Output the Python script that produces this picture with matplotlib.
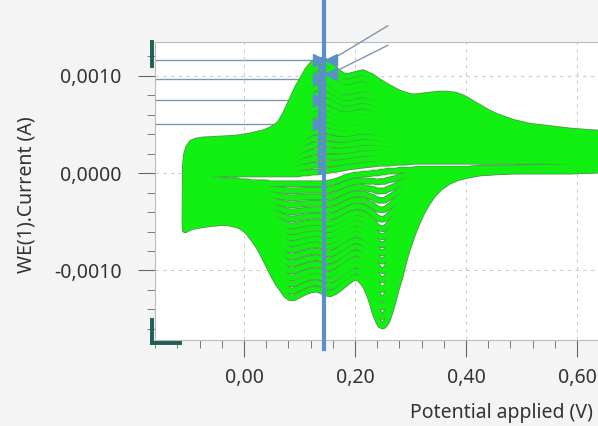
import numpy as np
import matplotlib.pyplot as plt
from matplotlib.ticker import MultipleLocator, FuncFormatter

plt.rcParams['font.family'] = ['Noto Sans', 'DejaVu Sans']

# forward (anodic) sweep: first and last cycle
fwd_potential = [-0.106, -0.105, -0.104, -0.1, -0.094, -0.085, -0.074, -0.04, -0.013, 0.01,
                 0.025, 0.034, 0.047, 0.057, 0.065, 0.075, 0.088, 0.097, 0.106, 0.115,
                 0.124, 0.133, 0.143, 0.155, 0.168, 0.178, 0.186, 0.2, 0.214, 0.23,
                 0.245, 0.26, 0.276, 0.29, 0.305, 0.32, 0.335, 0.35, 0.366, 0.38,
                 0.395, 0.41, 0.425, 0.44, 0.455, 0.47, 0.485, 0.515, 0.546, 0.59, 0.638]
fwd_last = [-0.00058, 0.0, 0.00018, 0.00026, 0.00031, 0.00033, 0.00034, 0.00035, 0.00036, 0.00038,
            0.00040, 0.00041, 0.00044, 0.00047, 0.00051, 0.00061, 0.00077, 0.00088, 0.00097, 0.00106,
            0.00112, 0.00115, 0.00116, 0.00111, 0.00104, 0.00100, 0.00099, 0.00101, 0.00103, 0.00099,
            0.00093, 0.00088, 0.00083, 0.00080, 0.00078, 0.00079, 0.00080, 0.00081, 0.00081, 0.00080,
            0.00077, 0.00072, 0.00067, 0.00062, 0.00058, 0.00055, 0.00052, 0.00048, 0.00046, 0.00043, 0.00041]
fwd_first = [-0.00006, -0.00005, -0.00005, -0.00004, -0.00003, -0.00003, -0.00002, -0.00001, -0.00001, -0.00001,
             -0.00001, -0.00001, -0.00001, -0.00001, -0.00001, -0.00001, -0.00001, -0.00001, 0.0, 0.0,
             0.00001, 0.00001, 0.00002, 0.00003, 0.00004, 0.00005, 0.00006, 0.00007, 0.00008, 0.00009,
             0.00010, 0.00010, 0.00011, 0.00011, 0.00012, 0.00012, 0.00012, 0.00012, 0.00012, 0.00012,
             0.00012, 0.00012, 0.00012, 0.00012, 0.00012, 0.00012, 0.00012, 0.00012, 0.00012, 0.00011, 0.00009]

# reverse (cathodic) sweep: first and last cycle
rev_potential = [0.638, 0.59, 0.546, 0.485, 0.45, 0.425, 0.405, 0.384, 0.368, 0.353,
                 0.341, 0.33, 0.321, 0.312, 0.303, 0.294, 0.287, 0.281, 0.274, 0.268,
                 0.263, 0.258, 0.254, 0.25, 0.246, 0.242, 0.237, 0.232, 0.226, 0.22,
                 0.214, 0.207, 0.2, 0.193, 0.186, 0.173, 0.163, 0.155, 0.147, 0.14,
                 0.13, 0.12, 0.11, 0.1, 0.09, 0.083, 0.076, 0.07, 0.062, 0.055,
                 0.047, 0.04, 0.032, 0.025, 0.015, 0.005, -0.005, -0.013, -0.03, -0.043,
                 -0.06, -0.074, -0.094, -0.106]
rev_last = [0.00003, 0.00002, 0.00002, 0.00002, 0.00001, 0.0, -0.00002, -0.00005, -0.00009, -0.00015,
            -0.00022, -0.00031, -0.00040, -0.00051, -0.00064, -0.00079, -0.00093, -0.00107, -0.00120, -0.00133,
            -0.00143, -0.00151, -0.00155, -0.00157, -0.00156, -0.00152, -0.00145, -0.00135, -0.00125, -0.00117,
            -0.00112, -0.00108, -0.00107, -0.00109, -0.00112, -0.00118, -0.00122, -0.00124, -0.00123, -0.00121,
            -0.00119, -0.00120, -0.00122, -0.00125, -0.00128, -0.00128, -0.00125, -0.00120, -0.00114, -0.00107,
            -0.00098, -0.00090, -0.00081, -0.00074, -0.00066, -0.00059, -0.00055, -0.00053, -0.00051, -0.00051,
            -0.00052, -0.00053, -0.00055, -0.00058]
rev_first = [0.00007, 0.00006, 0.00006, 0.00005, 0.00005, 0.00005, 0.00004, 0.00004, 0.00004, 0.00004,
             0.00004, 0.00004, 0.00004, 0.00004, 0.00003, 0.00003, 0.00003, 0.00003, 0.00002, 0.00002,
             0.00002, 0.00002, 0.00001, 0.00001, 0.00001, 0.0, 0.0, 0.0, -0.00001, -0.00001,
             -0.00001, -0.00002, -0.00002, -0.00003, -0.00004, -0.00007, -0.00009, -0.00010, -0.00011, -0.00011,
             -0.00011, -0.00011, -0.00011, -0.00011, -0.00011, -0.00011, -0.00011, -0.00011, -0.00011, -0.00011,
             -0.00011, -0.00010, -0.00010, -0.00010, -0.00010, -0.00009, -0.00009, -0.00008, -0.00008, -0.00007,
             -0.00007, -0.00006, -0.00006, -0.00006]

# current of each cycle read at the cursor
cursor_potential = 0.145
cursor_current = [0.00002, 0.00009, 0.00016, 0.00023, 0.00030, 0.00037, 0.00044, 0.00050, 0.00056,
                  0.00062, 0.00068, 0.00075, 0.00082, 0.00089, 0.00096, 0.00102, 0.00109, 0.00116]
marked_cycles = [17, 14, 11, 7]

fig = plt.figure(figsize=(5.98, 4.26), dpi=100, facecolor='#f4f4f4')
ax = fig.add_axes([155/598, 86/426, 443/598, 298/426])
ax.set_facecolor('white')

cc = np.array(cursor_current)
w = (cc - cc[0]) / (cc[-1] - cc[0])
x = np.concatenate([fwd_potential, rev_potential])
ff, fl = np.array(fwd_first), np.array(fwd_last)
rf, rl = np.array(rev_first), np.array(rev_last)
cycles = [np.concatenate([ff + k*(fl - ff), rf + k*(rl - rf)]) for k in w]

for y in cycles:
    ax.plot(x, y, color='#4e9e4e', lw=4.8, solid_joinstyle='round', solid_capstyle='round', zorder=2)
for y in cycles:
    ax.plot(x, y, color='#12f012', lw=3.5, solid_joinstyle='round', solid_capstyle='round', zorder=3)

# cursor and pointers
ax.axvline(cursor_potential, ymin=-0.03, ymax=1.15, color='#5a8fc8', lw=3.0, clip_on=False, zorder=5)
for i in marked_cycles:
    ax.plot([-0.1604, cursor_potential], [cc[i], cc[i]], color='#7f95ad', lw=1.0, zorder=1.5)
ax.plot(np.full(len(cc), cursor_potential - 0.007), cc, ls='none', marker='>', ms=4,
        color='#5a8fc8', zorder=6)
ax.plot(np.full(len(marked_cycles), cursor_potential - 0.01), cc[marked_cycles], ls='none',
        marker='>', ms=8, color='#5a8fc8', zorder=6)
for i, dy in [(17, 0.00035), (15, 0.00029)]:
    ax.plot([cursor_potential + 0.012, cursor_potential + 0.114], [cc[i], cc[i] + dy],
            color='#7f95ad', lw=1.0, clip_on=False, zorder=6)
    ax.plot(cursor_potential + 0.012, cc[i], marker='<', ms=8, color='#5a8fc8', zorder=6)

ax.set_xlim(-0.1604, 0.6378)
ax.set_ylim(-0.001713, 0.001344)
ax.xaxis.set_major_locator(MultipleLocator(0.2))
ax.xaxis.set_minor_locator(MultipleLocator(0.04))
ax.yaxis.set_major_locator(MultipleLocator(0.001))
ax.yaxis.set_minor_locator(MultipleLocator(0.0002))
ax.xaxis.set_major_formatter(FuncFormatter(lambda v, p: f'{v:.2f}'.replace('.', ',')))
ax.yaxis.set_major_formatter(FuncFormatter(lambda v, p: f'{v:.4f}'.replace('.', ',')))
ax.grid(True, which='major', color='#cccccc', ls=(0, (3, 4)), lw=0.8)
ax.tick_params(which='both', direction='out', color='#666666', labelcolor='#333333', labelsize=14)
ax.tick_params(axis='y', which='major', length=12, pad=12)
ax.tick_params(axis='x', which='major', length=12, pad=8)
ax.tick_params(which='minor', length=6)
for s in ['left', 'bottom', 'top']:
    ax.spines[s].set_color('#bbbbbb')
ax.spines['right'].set_visible(False)

# range handles
tc = '#1d5e57'
ax.plot([-0.007, -0.007], [0.919, 1.0], color=tc, lw=2.8, transform=ax.transAxes, clip_on=False, zorder=7)
ax.plot([-0.007, -0.007], [-0.01, 0.067], color=tc, lw=2.8, transform=ax.transAxes, clip_on=False, zorder=7)
ax.plot([-0.007, 0.056], [-0.01, -0.01], color=tc, lw=2.8, transform=ax.transAxes, clip_on=False, zorder=7)

fig.text(27/598, 1 - 195/426, 'WE(1).Current (A)', rotation=90, ha='center', va='center',
         fontsize=14, color='#333333')
fig.text(593/598, 1 - 413/426, 'Potential applied (V)', ha='right', va='center',
         fontsize=14, color='#333333')

fig.savefig('out.png', dpi=100, facecolor=fig.get_facecolor())
